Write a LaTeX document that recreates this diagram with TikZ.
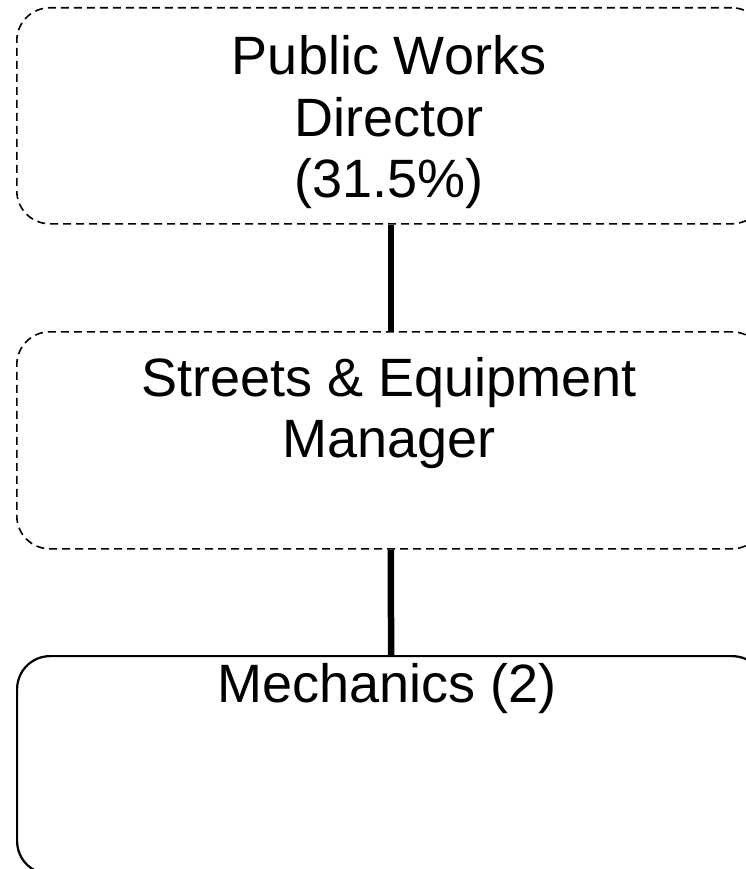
\documentclass[tikz,border=0pt]{standalone}
\usepackage{fontspec}
\setmainfont{Liberation Sans}
\begin{document}
\begin{tikzpicture}[x=1pt,y=-1pt,
  orgbox/.style={draw=black, rectangle, rounded corners=33pt, inner sep=0pt,
    minimum width=748pt, anchor=north west},
  dashbox/.style={orgbox, line width=1.6pt, dash pattern=on 8pt off 5pt},
  solidbox/.style={orgbox, line width=2.2pt},
  label/.style={anchor=north, inner sep=0pt, align=center,
    font=\fontsize{54}{61.5}\selectfont},
  link/.style={line width=6.5pt}]
  \useasboundingbox (0,0) rectangle (746,869);

  % boxes
  \node[dashbox, minimum height=216pt] (director) at (16,7) {};
  \node[dashbox, minimum height=217pt] (manager) at (16,331) {};
  \node[solidbox, minimum height=218pt] (mechanics) at (16,655) {};

  % box texts
  \node[label] (tdirector) at (389,35.5) {Public Works\\Director\\(31.5\%)};
  \node[label] (tmanager) at (389,357) {Streets \& Equipment\\Manager};
  \node[label] (tmechanics) at (387,663) {Mechanics (2)};

  % reporting lines
  \draw[link] (director.south) -- (manager.north);
  \draw[link] (manager.south) -- (mechanics.north);
\end{tikzpicture}
\end{document}
